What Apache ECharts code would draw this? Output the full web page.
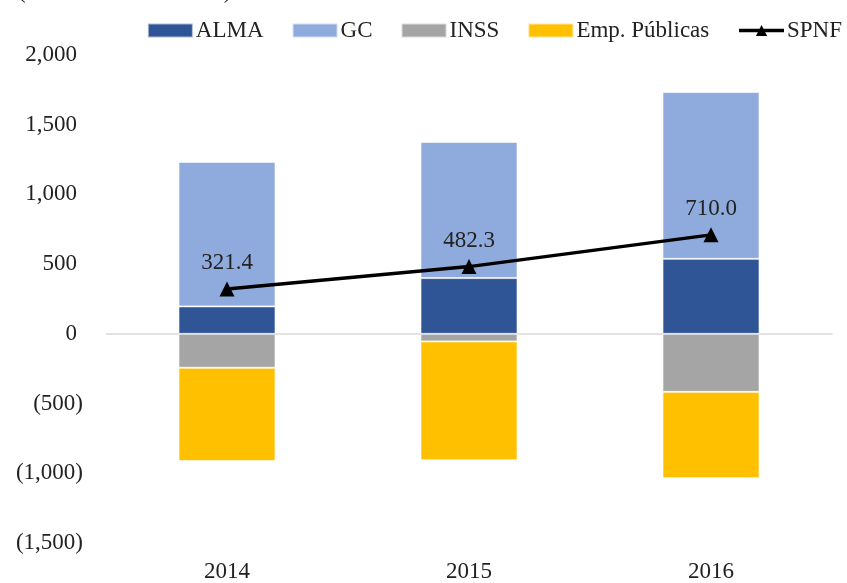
<!DOCTYPE html>
<html>
<head>
<meta charset="utf-8">
<script src="https://cdn.jsdelivr.net/npm/echarts@6/dist/echarts.min.js"></script>
<style>
  html, body { margin: 0; padding: 0; background: #fff; }
  #chart { width: 847px; height: 583px; }
</style>
</head>
<body>
<div id="chart"></div>
<script>
const years = ["2014", "2015", "2016"];
const alma = [197, 400, 538];
const gc = [1036, 976, 1196];
const inss = [-243, -54, -416];
const empPublicas = [-669, -853, -619];
const spnf = [321.4, 482.3, 710.0];

const serif = "Liberation Serif";
const fs = 23;
const chart = echarts.init(document.getElementById("chart"));

// etiquetas del eje con paréntesis para negativos
function fmtAxis(v) {
  const s = Math.abs(v).toLocaleString("en-US");
  if (v < 0) return "(" + s + ")";
  return "{p|" + s + "}";
}

const barBase = {
  type: "bar",
  stack: "total",
  barWidth: 97,
  itemStyle: { borderColor: "rgba(255,255,255,0.6)", borderWidth: 1 },
};

chart.setOption({
  animation: false,
  textStyle: { fontFamily: serif },
  graphic: [
    {
      type: "text",
      left: 18,
      top: -20,
      style: { text: "(Millones de córdobas)", font: fs + "px " + serif, fill: "#222" },
    },
  ],
  legend: {
    top: 14,
    right: 0,
    itemWidth: 45,
    itemHeight: 14,
    itemGap: 28,
    textStyle: { fontFamily: serif, fontSize: fs, color: "#222", padding: [0, 0, 0, -2] },
    data: [
      { name: "ALMA", icon: "rect" },
      { name: "GC", icon: "rect" },
      { name: "INSS", icon: "rect" },
      { name: "Emp. Públicas", icon: "rect" },
      { name: "SPNF", lineStyle: { width: 3.5 } },
    ],
  },
  grid: { left: 106, right: 15, top: 55, bottom: 38 },
  xAxis: [
    {
      type: "category",
      data: years,
      position: "bottom",
      axisLine: { show: false, onZero: false },
      axisTick: { show: false },
      axisLabel: { fontFamily: serif, fontSize: fs, color: "#222", margin: 17 },
    },
    {
      type: "category",
      data: years,
      position: "bottom",
      axisLine: { show: true, onZero: true, lineStyle: { color: "#d9d9d9", width: 1.5 } },
      axisTick: { show: false },
      axisLabel: { show: false },
    },
  ],
  yAxis: {
    type: "value",
    min: -1500,
    max: 2000,
    interval: 500,
    splitLine: { show: false },
    axisLine: { show: false },
    axisTick: { show: false },
    axisLabel: {
      fontFamily: serif,
      fontSize: fs,
      color: "#222",
      margin: 23,
      formatter: fmtAxis,
      rich: { p: { fontFamily: serif, fontSize: fs, color: "#222", padding: [0, 6, 0, 0] } },
    },
  },
  series: [
    Object.assign({}, barBase, { name: "ALMA", data: alma, color: "#2F5597" }),
    Object.assign({}, barBase, { name: "GC", data: gc, color: "#8FAADC" }),
    Object.assign({}, barBase, { name: "INSS", data: inss, color: "#A5A5A5" }),
    Object.assign({}, barBase, { name: "Emp. Públicas", data: empPublicas, color: "#FFC000" }),
    {
      name: "SPNF",
      type: "line",
      data: spnf,
      color: "#000",
      symbol: "triangle",
      symbolSize: 15,
      lineStyle: { width: 3.5, color: "#000" },
      itemStyle: { color: "#000" },
      z: 5,
      label: {
        show: true,
        position: "top",
        distance: 7,
        fontFamily: serif,
        fontSize: fs,
        color: "#222",
        formatter: (p) => p.value.toFixed(1),
      },
    },
  ],
});
</script>
</body>
</html>
